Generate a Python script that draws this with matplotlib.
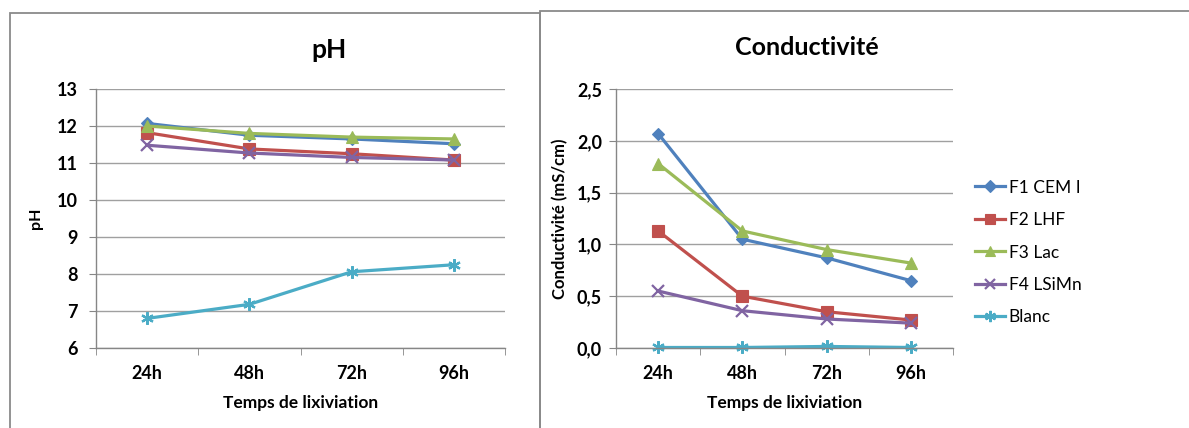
"""
Grafice pH si Conductivite pentru lixiviatie (24h-96h).
"""

import matplotlib
matplotlib.use("Agg")
import matplotlib.pyplot as plt
from matplotlib.patches import Rectangle

plt.rcParams['font.family'] = ['Lato', 'DejaVu Sans']

# Date
durees = ['24h', '48h', '72h', '96h']
series = ['F1 CEM I', 'F2 LHF', 'F3 Lac', 'F4 LSiMn', 'Blanc']

ph_f1 = [12.07, 11.75, 11.65, 11.52]
ph_f2 = [11.82, 11.38, 11.25, 11.08]
ph_f3 = [12.00, 11.80, 11.70, 11.65]
ph_f4 = [11.48, 11.27, 11.15, 11.08]
ph_blanc = [6.80, 7.18, 8.06, 8.25]

cond_f1 = [2.07, 1.05, 0.87, 0.65]
cond_f2 = [1.13, 0.50, 0.35, 0.27]
cond_f3 = [1.78, 1.13, 0.95, 0.82]
cond_f4 = [0.55, 0.36, 0.28, 0.24]
cond_blanc = [0.005, 0.005, 0.015, 0.005]

ph_ticks = [6, 7, 8, 9, 10, 11, 12, 13]
cond_ticks = [0.0, 0.5, 1.0, 1.5, 2.0, 2.5]
cond_ticklabels = ['0,0', '0,5', '1,0', '1,5', '2,0', '2,5']

# Stiluri (culori Excel)
colors = ['#4F81BD', '#C0504D', '#9BBB59', '#8064A2', '#4BACC6']
markers = ['D', 's', '^', 'x', (6, 2, 0)]
msizes = [6.5, 8, 8, 8, 9]
grid_col = '#a0a0a0'
axis_col = '#868686'

W, H = 1189, 428


def fig_rect(x0, y0, x1, y1):
    """Pixeli (sus-stanga) -> coordonate figura [left, bottom, width, height]."""
    return [x0 / W, 1 - y1 / H, (x1 - x0) / W, (y1 - y0) / H]


def style_axes(ax, yticks, ylim, ylabels=None, ytick_pad=8):
    x = list(range(len(durees)))
    ax.set_xlim(-0.5, len(durees) - 0.5)
    ax.set_ylim(*ylim)
    ax.set_xticks(x)
    ax.set_xticklabels(durees, fontsize=13, fontweight='bold')
    ax.set_xticks([i - 0.5 for i in range(len(durees) + 1)], minor=True)
    ax.tick_params(axis='x', which='major', length=0, pad=12)
    ax.tick_params(axis='x', which='minor', length=5, color=axis_col, direction='out')
    ax.set_yticks(yticks)
    if ylabels is not None:
        ax.set_yticklabels(ylabels)
    for lab in ax.get_yticklabels():
        lab.set_fontsize(13)
        lab.set_fontweight('bold')
    ax.tick_params(axis='y', length=5, color=axis_col, direction='out', pad=ytick_pad)
    ax.grid(True, axis='y', color=grid_col, linewidth=1)
    ax.set_axisbelow(True)
    for side in ['top', 'right']:
        ax.spines[side].set_visible(False)
    for side in ['left', 'bottom']:
        ax.spines[side].set_color(axis_col)
        ax.spines[side].set_linewidth(1)


def plot_series(ax, data):
    x = list(range(len(durees)))
    for vals, name, c, m, ms in zip(data, series, colors, markers, msizes):
        ax.plot(x, vals, color=c, linewidth=2.3, marker=m, markersize=ms,
                markeredgewidth=1.6 if m in ('x', (6, 2, 0)) else 0.8,
                markerfacecolor=c, markeredgecolor=c, label=name, clip_on=False)


fig = plt.figure(figsize=(W / 100, H / 100), dpi=100)

# Cadre
fig.patches.append(Rectangle((10 / W, -0.1), 530 / W, 1.1 - 13 / H, transform=fig.transFigure,
                             fill=False, edgecolor='#8a8a8a', linewidth=1.3))
fig.patches.append(Rectangle((540 / W, -0.1), 700 / W, 1.1 - 11 / H, transform=fig.transFigure,
                             fill=False, edgecolor='#8a8a8a', linewidth=1.3))

# pH
ax1 = fig.add_axes(fig_rect(96, 89, 505, 348))
plot_series(ax1, [ph_f1, ph_f2, ph_f3, ph_f4, ph_blanc])
style_axes(ax1, ph_ticks, (6, 13))
ax1.text(0.57, 1.15, 'pH', transform=ax1.transAxes, ha='center', va='center',
         fontsize=19, fontweight='bold')
ax1.set_ylabel('pH', fontsize=11.5, fontweight='bold')
ax1.yaxis.set_label_coords(-0.13, 0.5)
ax1.set_xlabel('Temps de lixiviation', fontsize=12.5, fontweight='bold')
ax1.xaxis.set_label_coords(0.5, -0.212)
ax1.xaxis.label.set_va('center')

# Conductivite
ax2 = fig.add_axes(fig_rect(616, 89, 953, 348))
plot_series(ax2, [cond_f1, cond_f2, cond_f3, cond_f4, cond_blanc])
style_axes(ax2, cond_ticks, (0, 2.5), cond_ticklabels, ytick_pad=5)
ax2.text(0.567, 1.16, 'Conductivité', transform=ax2.transAxes, ha='center', va='center',
         fontsize=18, fontweight='bold')
ax2.set_ylabel('Conductivité (mS/cm)', fontsize=12, fontweight='bold')
ax2.yaxis.set_label_coords(-0.142, 0.5)
ax2.set_xlabel('Temps de lixiviation', fontsize=12.5, fontweight='bold')
ax2.xaxis.set_label_coords(0.5, -0.212)
ax2.xaxis.label.set_va('center')

ax2.legend(loc='center left', bbox_to_anchor=(975 / W, 1 - 252.5 / H),
           bbox_transform=fig.transFigure, frameon=False, fontsize=12.5,
           borderpad=0, borderaxespad=0, handlelength=1.75, handletextpad=0.2,
           labelspacing=0.95, markerscale=0.9)

fig.savefig('out.png', dpi=100)
